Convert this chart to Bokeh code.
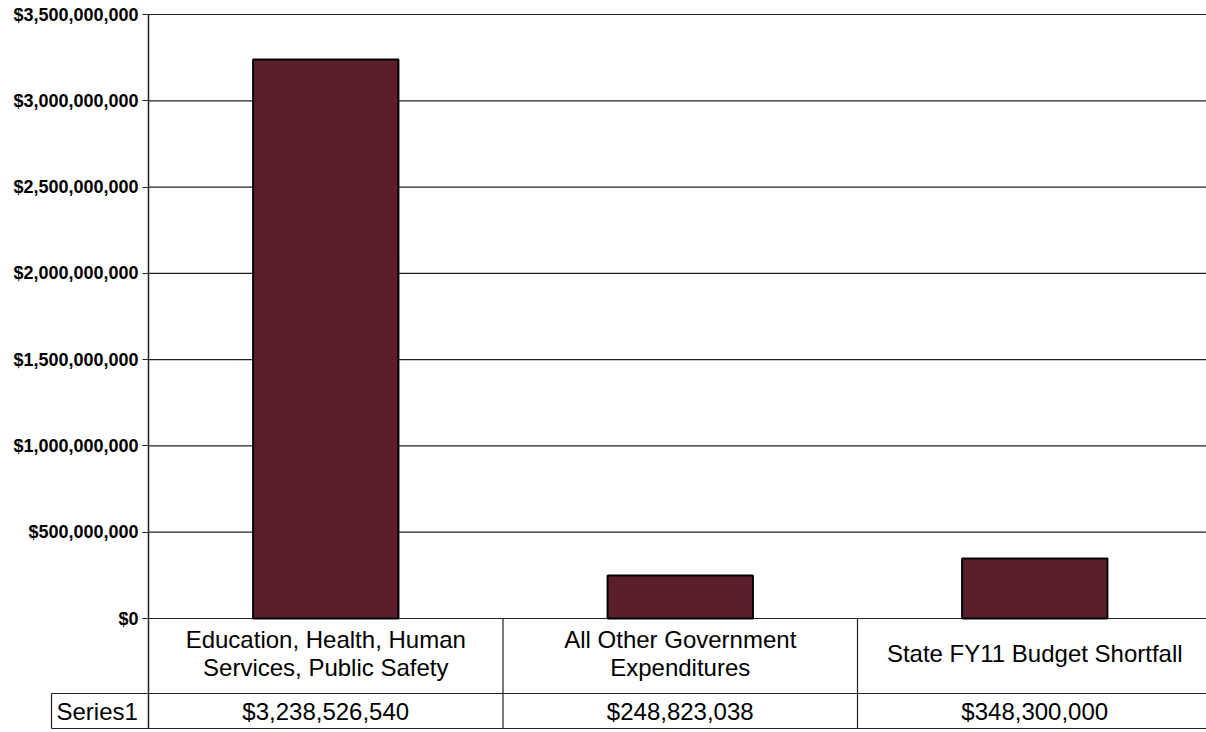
from bokeh.plotting import figure
from bokeh.models import Range1d, FixedTicker, NumeralTickFormatter, ColumnDataSource, LinearAxis
from bokeh.core.properties import value
from bokeh.embed import file_html
from bokeh.resources import INLINE

categories = ["Education, Health, Human\nServices, Public Safety",
              "All Other Government\nExpenditures",
              "State FY11 Budget Shortfall"]
values = [3238526540, 248823038, 348300000]
value_labels = ["$3,238,526,540", "$248,823,038", "$348,300,000"]
series_name = "Series1"
y_ticks = [0, 500000000, 1000000000, 1500000000, 2000000000, 2500000000, 3000000000, 3500000000]

FONT = "Liberation Sans"
BAR = "#5b1f2b"
LINE = "#222222"
W, H = 1206, 732
AXIS_X = 148          # screen x of the value axis
TOP = 14              # screen y of the top of the value scale
ZERO = 618            # screen y of $0
CELL_LEFT = 51        # screen x of the left edge of the "Series1" cell
COL_PX = 354.5        # width of one category column
n = len(categories)
ymax = y_ticks[-1]
upp = ymax / (ZERO - TOP)   # data units per pixel


def d(px_below_zero):
    return -px_below_zero * upp


x_lo = -AXIS_X / COL_PX
x_hi = (W - AXIS_X) / COL_PX
cell_left = -(AXIS_X - CELL_LEFT) / COL_PX

p = figure(width=W, height=H, output_backend="svg", toolbar_location=None,
           x_range=Range1d(x_lo, x_hi), y_range=Range1d(d(H - ZERO), ymax + TOP * upp),
           x_axis_location=None, y_axis_location=None,
           min_border_left=0, min_border_right=0,
           min_border_top=0, min_border_bottom=0)
p.outline_line_color = None
p.xgrid.grid_line_color = None
p.ygrid.grid_line_color = None

xc = [i + 0.5 for i in range(n)]

# value gridlines
p.segment(x0=[0] * len(y_ticks), y0=y_ticks, x1=[x_hi] * len(y_ticks), y1=y_ticks,
          line_color=LINE, line_width=1.2)

src = ColumnDataSource(dict(x=xc, top=values))
p.vbar(x="x", top="top", bottom=0, width=0.41, source=src,
       fill_color=BAR, line_color="black", line_width=2)

yaxis = LinearAxis(fixed_location=0)
yaxis.ticker = FixedTicker(ticks=y_ticks)
yaxis.formatter = NumeralTickFormatter(format="$0,0")
yaxis.major_label_text_font = FONT
yaxis.major_label_text_font_style = "bold"
yaxis.major_label_text_font_size = "18px"
yaxis.major_label_text_color = "black"
yaxis.major_tick_out = 6
yaxis.major_tick_in = 0
yaxis.minor_tick_line_color = None
yaxis.axis_line_color = None
yaxis.major_tick_line_color = LINE
yaxis.major_label_standoff = 4
p.add_layout(yaxis, "left")

# data table lines
row_split = d(693 - ZERO)
bottom = d(728 - ZERO)
table_top = 0
vx = list(range(0, n + 1))
p.segment(x0=vx[1:], y0=[bottom] * n, x1=vx[1:], y1=[table_top] * n, line_color=LINE, line_width=1.2)
p.segment(x0=[0], y0=[bottom], x1=[0], y1=[ymax], line_color=LINE, line_width=1.5)
p.segment(x0=[cell_left, cell_left, cell_left], y0=[row_split, bottom, bottom],
          x1=[x_hi, x_hi, cell_left], y1=[row_split, bottom, row_split], line_color=LINE, line_width=1.2)

p.text(x=xc, y=[d(653 - ZERO)] * n, text=categories, text_align="center", text_baseline="middle",
       text_font=value(FONT), text_font_size="24px", text_color="black", text_line_height=1.02)
p.text(x=xc, y=[d(711 - ZERO)] * n, text=value_labels, text_align="center", text_baseline="middle",
       text_font=value(FONT), text_font_size="24px", text_color="black")
p.text(x=[cell_left], y=[d(711 - ZERO)], text=[series_name], x_offset=5, text_align="left",
       text_baseline="middle", text_font=value(FONT), text_font_size="24px", text_color="black")

open("out.html", "w").write(file_html(p, INLINE))
